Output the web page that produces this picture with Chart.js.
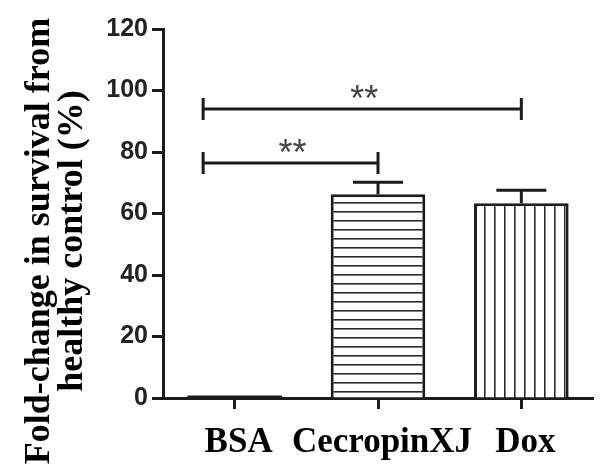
<!DOCTYPE html>
<html><head><meta charset="utf-8">
<script src="https://cdn.jsdelivr.net/npm/chart.js@4"></script>
<style>html,body{margin:0;padding:0;background:#fff;}#wrap{width:608px;height:475px;}</style>
</head><body><div id="wrap"><canvas id="c" width="608" height="475"></canvas></div>
<script>
const categories = ['BSA', 'CecropinXJ', 'Dox'];
const meanValues = [0.3, 66.3, 63.3];
const semValues = [0, 3.9, 4.3];
const yTitleLines = ['Fold-change in survival from', 'healthy control (%)'];
const sigFrom = [0, 0];
const sigTo = [1, 2];
const sigHeight = [76.4, 94.0];
const sigLabels = ['**', '**'];

function makePattern(horizontal) {
  const t = document.createElement('canvas');
  t.width = 10;
  t.height = horizontal ? 9 : 10;
  const g = t.getContext('2d');
  g.fillStyle = '#fff';
  g.fillRect(0, 0, t.width, t.height);
  g.fillStyle = '#2a2a2a';
  if (horizontal) g.fillRect(0, 4, t.width, 1.6);
  else g.fillRect(4, 0, 1.6, t.height);
  return g.createPattern(t, 'repeat');
}
const ctx = document.getElementById('c').getContext('2d');
const fills = ['#ffffff', makePattern(true), makePattern(false)];

const ink = '#1c1c1c';

const annotations = {
  id: 'annotations',
  afterDatasetsDraw(chart) {
    const c = chart.ctx, xs = chart.scales.x, ys = chart.scales.y;
    c.save();
    c.strokeStyle = ink;
    c.lineWidth = 3;
    c.lineCap = 'butt';
    // baseline mark for the near-zero bar
    meanValues.forEach((m, i) => {
      const meta = chart.getDatasetMeta(0).data[i];
      if (m < 1) {
        const y = ys.getPixelForValue(m);
        c.beginPath();
        c.moveTo(meta.x - meta.width / 2, y);
        c.lineTo(meta.x + meta.width / 2, y);
        c.stroke();
      }
    });
    // error bars (upper only)
    meanValues.forEach((m, i) => {
      const e = semValues[i];
      if (!e) return;
      const x = xs.getPixelForValue(i);
      const y0 = ys.getPixelForValue(m);
      const y1 = ys.getPixelForValue(m + e);
      c.beginPath();
      c.moveTo(x, y0); c.lineTo(x, y1);
      c.moveTo(x - 25, y1); c.lineTo(x + 25, y1);
      c.stroke();
    });
    // significance brackets
    sigFrom.forEach((f, k) => {
      const xa = xs.getPixelForValue(f - 0.22);
      const xb = xs.getPixelForValue(sigTo[k]);
      const y = ys.getPixelForValue(sigHeight[k]);
      c.beginPath();
      c.moveTo(xa, y); c.lineTo(xb, y);
      c.moveTo(xa, y - 11); c.lineTo(xa, y + 11);
      c.moveTo(xb, y - 11); c.lineTo(xb, y + 11);
      c.stroke();
      c.fillStyle = '#444';
      c.font = '36px "Liberation Sans"';
      c.textAlign = 'center';
      c.textBaseline = 'alphabetic';
      c.fillText(sigLabels[k], (xa + xb) / 2 + 2, y + 2);
    });
    c.restore();
  },
  afterDraw(chart) {
    const c = chart.ctx;
    c.save();
    c.fillStyle = '#000';
    c.font = 'bold 36px "Liberation Serif"';
    c.textAlign = 'center';
    c.textBaseline = 'alphabetic';
    const cy = 241;
    const baselines = [49, 82];
    yTitleLines.forEach((t, i) => {
      c.save();
      c.translate(baselines[i], cy);
      c.rotate(-Math.PI / 2);
      c.fillText(t, 0, 0);
      c.restore();
    });
    c.restore();
  }
};

new Chart(ctx, {
  type: 'bar',
  data: {
    labels: categories,
    datasets: [{
      data: meanValues,
      backgroundColor: fills,
      borderColor: ink,
      borderWidth: 3,
      borderSkipped: 'start',
      categoryPercentage: 1,
      barPercentage: 0.66
    }]
  },
  options: {
    responsive: false,
    animation: false,
    devicePixelRatio: 1,
    layout: { padding: { top: 29, right: 15, left: 0, bottom: 0 } },
    plugins: { legend: { display: false }, tooltip: { enabled: false } },
    scales: {
      x: {
        offset: true,
        grid: { display: true, drawOnChartArea: false, drawTicks: true, tickLength: 11, tickWidth: 3, color: ink, offset: false },
        border: { display: true, width: 3, color: ink },
        ticks: { font: { family: 'Liberation Serif', weight: 'bold', size: 35 }, color: '#000', padding: 13, maxRotation: 0, autoSkip: false, labelOffset: 4 },
        afterFit(s) { s.height = 77; }
      },
      y: {
        min: 0, max: 120,
        ticks: { stepSize: 20, font: { family: 'Liberation Sans', weight: 'bold', size: 25 }, color: '#222', padding: 4 },
        grid: { display: true, drawOnChartArea: false, drawTicks: true, tickLength: 11, tickWidth: 3, color: ink },
        border: { display: true, width: 3, color: ink },
        afterFit(s) { s.width = 163; }
      }
    }
  },
  plugins: [annotations]
});
</script>
</body></html>
